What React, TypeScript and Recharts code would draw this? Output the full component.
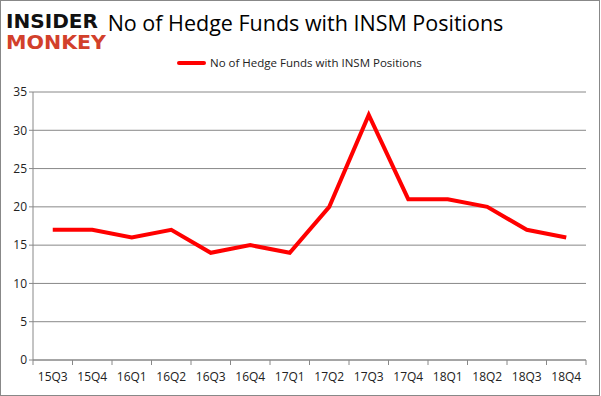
import React from "react";
import { LineChart, Line, XAxis, YAxis, CartesianGrid } from "recharts";

const quarters = ["15Q3", "15Q4", "16Q1", "16Q2", "16Q3", "16Q4", "17Q1", "17Q2", "17Q3", "17Q4", "18Q1", "18Q2", "18Q3", "18Q4"];
const hedgeFunds = [17, 17, 16, 17, 14, 15, 14, 20, 32, 21, 21, 20, 17, 16];
const yTicks = [0, 5, 10, 15, 20, 25, 30, 35];

const data = quarters.map((q, i) => ({ q, x: i + 0.5, funds: hedgeFunds[i] }));
const xTicks = quarters.map((_, i) => i).concat(quarters.length);

const W = 601;
const H = 396;
const LEFT = 33;
const RIGHT = 15;
const BAND = (W - LEFT - RIGHT) / quarters.length;

const font = "Open Sans, sans-serif";

function QuarterTick(props: any) {
    const { x, y, payload } = props;
    const label = quarters[payload.value];
    if (!label) return null;
    return (
        <text x={x + BAND / 2} y={y + 14} textAnchor="middle" fontSize={12} fill="#222" fontFamily={font}>
            {label}
        </text>
    );
}

export default function App() {
    return (
        <div style={{ position: "relative", width: 600, height: 396, boxSizing: "border-box", border: "1px solid #888", background: "#fff" }}>
            <style>{"body{margin:0}"}</style>
            <svg width={110} height={52} style={{ position: "absolute", left: 4, top: 2 }}>
                <text x={1} y={25} fontSize={19} fontWeight={900} fontFamily="DejaVu Sans, sans-serif" fill="#111" textLength={92} lengthAdjust="spacingAndGlyphs">INSIDER</text>
                <text x={1} y={46} fontSize={19} fontWeight={900} fontFamily="DejaVu Sans, sans-serif" fill="#d2402b" textLength={100} lengthAdjust="spacingAndGlyphs">MONKEY</text>
            </svg>
            <div style={{ position: "absolute", left: 0, width: 601, top: 7, textAlign: "center", fontFamily: font, fontSize: 21.5, color: "#000", paddingLeft: 4 }}>
                No of Hedge Funds with INSM Positions
            </div>
            <div style={{ position: "absolute", left: 176, top: 54, display: "flex", alignItems: "center", fontFamily: font, fontSize: 11.5, color: "#222" }}>
                <span style={{ display: "inline-block", width: 29, height: 4, background: "#ff0000", borderRadius: 2, marginRight: 4 }} />
                No of Hedge Funds with INSM Positions
            </div>
            <LineChart width={W} height={H} data={data} margin={{ top: 92, right: RIGHT, bottom: 0, left: 0 }} style={{ position: "absolute", left: -1, top: -1 }}>
                <CartesianGrid vertical={false} stroke="#888" />
                <XAxis
                    dataKey="x"
                    type="number"
                    domain={[0, quarters.length]}
                    ticks={xTicks}
                    interval={0}
                    height={36}
                    stroke="#888"
                    tickSize={5}
                    tick={<QuarterTick />}
                />
                <YAxis
                    domain={[0, 35]}
                    ticks={yTicks}
                    width={LEFT}
                    stroke="#888"
                    tickSize={4}
                    tick={{ fontSize: 12, fill: "#222", fontFamily: font }}
                />
                <Line type="linear" dataKey="funds" stroke="#ff0000" strokeWidth={4} dot={false} isAnimationActive={false} />
            </LineChart>
        </div>
    );
}
